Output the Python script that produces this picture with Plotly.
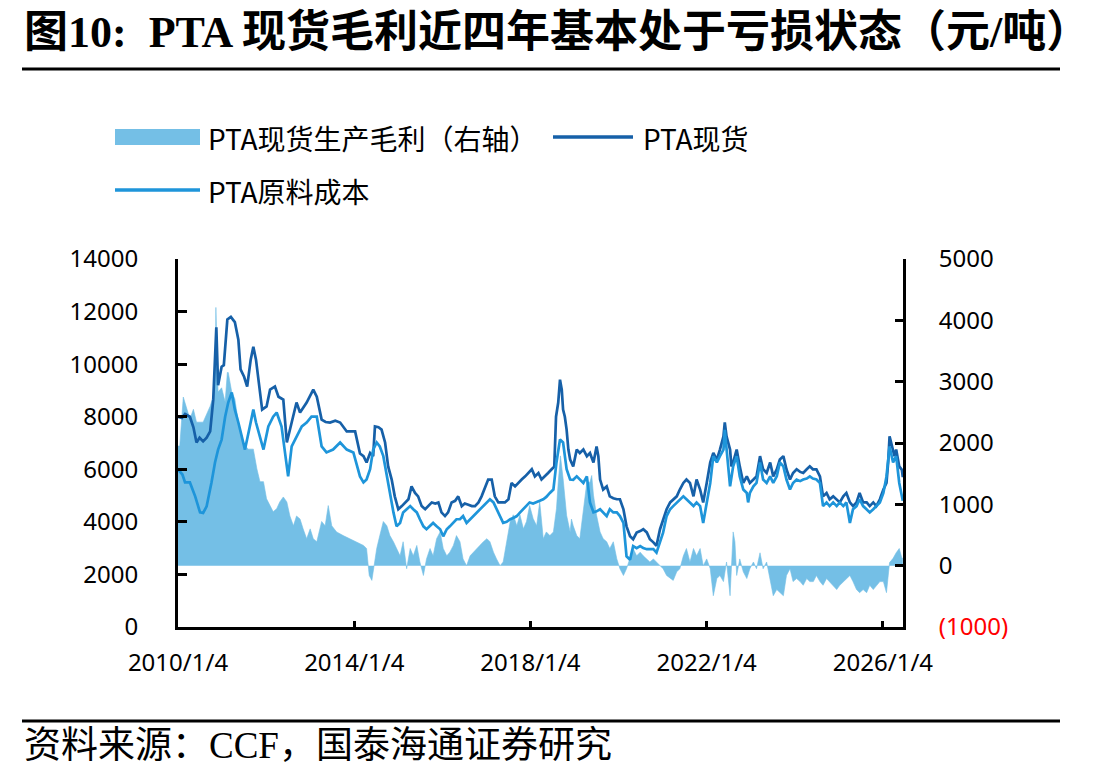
import plotly.graph_objects as go

# ---------------- data (decimal years) ----------------
spot_t = [2010.01, 2010.10, 2010.17, 2010.28, 2010.36, 2010.43, 2010.50, 2010.58, 2010.66, 2010.74,
          2010.81, 2010.88, 2010.92, 2011.00, 2011.05, 2011.13, 2011.21, 2011.30, 2011.38, 2011.43,
          2011.51, 2011.58, 2011.66, 2011.72, 2011.78, 2011.84, 2011.92, 2012.02, 2012.10, 2012.21,
          2012.29, 2012.40, 2012.48, 2012.59, 2012.70, 2012.78, 2012.93, 2013.08, 2013.16, 2013.27,
          2013.36, 2013.46, 2013.58, 2013.69, 2013.84, 2014.03, 2014.14, 2014.22, 2014.29, 2014.37,
          2014.44, 2014.48, 2014.56, 2014.63, 2014.71, 2014.78, 2014.86, 2014.93, 2015.01, 2015.09,
          2015.16, 2015.24, 2015.31, 2015.39, 2015.46, 2015.54, 2015.62, 2015.70, 2015.77, 2015.85,
          2015.92, 2015.99, 2016.07, 2016.14, 2016.22, 2016.30, 2016.37, 2016.45, 2016.52, 2016.60,
          2016.68, 2016.75, 2016.83, 2016.90, 2016.98, 2017.05, 2017.13, 2017.20, 2017.28, 2017.35,
          2017.43, 2017.51, 2017.58, 2017.66, 2017.73, 2017.81, 2017.89, 2017.96, 2018.04, 2018.11,
          2018.19, 2018.26, 2018.34, 2018.41, 2018.49, 2018.55, 2018.59, 2018.64, 2018.68, 2018.72,
          2018.75, 2018.79, 2018.83, 2018.87, 2018.91, 2018.98, 2019.06, 2019.13, 2019.21, 2019.29,
          2019.36, 2019.44, 2019.51, 2019.55, 2019.59, 2019.66, 2019.74, 2019.81, 2019.89, 2019.97,
          2020.04, 2020.12, 2020.19, 2020.27, 2020.34, 2020.42, 2020.50, 2020.57, 2020.65, 2020.72,
          2020.80, 2020.87, 2020.95, 2021.02, 2021.10, 2021.18, 2021.25, 2021.33, 2021.40, 2021.48,
          2021.55, 2021.63, 2021.71, 2021.78, 2021.86, 2021.93, 2022.01, 2022.09, 2022.16, 2022.24,
          2022.31, 2022.39, 2022.42, 2022.46, 2022.54, 2022.57, 2022.61, 2022.69, 2022.76, 2022.84,
          2022.92, 2022.99, 2023.07, 2023.14, 2023.22, 2023.29, 2023.37, 2023.45, 2023.52, 2023.60,
          2023.67, 2023.75, 2023.82, 2023.90, 2023.97, 2024.05, 2024.13, 2024.20, 2024.28, 2024.35,
          2024.42, 2024.50, 2024.58, 2024.65, 2024.73, 2024.80, 2024.88, 2024.96, 2025.03, 2025.11,
          2025.18, 2025.26, 2025.33, 2025.41, 2025.48, 2025.56, 2025.64, 2025.71, 2025.79, 2025.86,
          2025.94, 2026.02, 2026.09, 2026.13, 2026.16, 2026.20, 2026.27, 2026.31, 2026.38, 2026.44,
          2026.46]
spot_v = [8000, 7950, 8100, 8000, 7600, 7020, 7200, 7060, 7200, 7440,
          8650, 11400, 9200, 9900, 9960, 11700, 11800, 11600, 10930, 9800,
          9520, 9150, 10170, 10660, 10170, 9300, 8270, 8390, 9030, 9150,
          8760, 8650, 7020, 7780, 8540, 8160, 8540, 9030, 8760, 7890,
          7800, 7780, 7850, 7780, 7440, 7440, 6600, 6500, 6260, 6620,
          6500, 7630, 7600, 7510, 7020, 6110, 5610, 4970, 4480, 4600,
          4740, 4860, 5350, 5100, 4970, 4600, 4480, 4600, 4740, 4700,
          4740, 4360, 4220, 4360, 4740, 4800, 4970, 4600, 4700, 4650,
          4600, 4600, 4740, 4970, 5350, 5610, 5610, 4970, 4740, 4740,
          4740, 4860, 5480, 5350, 5480, 5610, 5730, 5860, 6000, 5730,
          5860, 5610, 5730, 5860, 6000, 6100, 8000, 8540, 9410, 9030,
          8270, 8000, 7510, 6750, 6370, 6110, 6750, 6620, 6750, 6500,
          6620, 6260, 6870, 6500, 5610, 5230, 5350, 4970, 4900, 4860,
          4860, 4480, 3830, 3450, 3340, 3590, 3650, 3720, 3600, 3340,
          3220, 3090, 3720, 4100, 4480, 4740, 4860, 4970, 5230, 5480,
          5610, 5480, 4970, 5610, 5230, 4740, 5480, 6260, 6620, 6370,
          6750, 7250, 7780, 7250, 6750, 6110, 6260, 6750, 6110, 5480,
          5730, 5480, 5610, 5730, 6500, 6000, 5860, 6260, 5730, 6000,
          6370, 6500, 6000, 5610, 5860, 6000, 5900, 5860, 6000, 6110,
          6000, 6000, 5730, 4970, 5100, 4860, 4970, 4860, 4740, 4970,
          5100, 4740, 4600, 4740, 5100, 4740, 4740, 4600, 4740, 4600,
          4860, 5230, 5480, 6300, 7250, 6990, 6500, 6750, 6110, 5980,
          5700]

cost_t = [2010.01, 2010.05, 2010.11, 2010.17, 2010.28, 2010.40, 2010.51, 2010.58, 2010.66, 2010.77,
          2010.85, 2010.92, 2011.00, 2011.08, 2011.15, 2011.23, 2011.30, 2011.38, 2011.45, 2011.53,
          2011.64, 2011.72, 2011.78, 2011.87, 2011.95, 2012.06, 2012.17, 2012.25, 2012.36, 2012.48,
          2012.51, 2012.59, 2012.70, 2012.82, 2012.93, 2013.04, 2013.16, 2013.27, 2013.38, 2013.53,
          2013.69, 2013.84, 2013.99, 2014.14, 2014.22, 2014.29, 2014.37, 2014.44, 2014.52, 2014.59,
          2014.67, 2014.75, 2014.82, 2014.90, 2014.97, 2015.05, 2015.12, 2015.20, 2015.28, 2015.35,
          2015.43, 2015.50, 2015.58, 2015.65, 2015.73, 2015.80, 2015.88, 2015.96, 2016.03, 2016.11,
          2016.18, 2016.26, 2016.33, 2016.41, 2016.48, 2016.56, 2016.64, 2016.71, 2016.79, 2016.86,
          2016.94, 2017.02, 2017.09, 2017.17, 2017.24, 2017.32, 2017.39, 2017.47, 2017.55, 2017.62,
          2017.70, 2017.77, 2017.85, 2017.92, 2017.99, 2018.07, 2018.15, 2018.22, 2018.30, 2018.37,
          2018.45, 2018.53, 2018.60, 2018.68, 2018.75, 2018.79, 2018.83, 2018.91, 2018.98, 2019.06,
          2019.13, 2019.21, 2019.29, 2019.36, 2019.44, 2019.51, 2019.59, 2019.66, 2019.74, 2019.81,
          2019.89, 2019.97, 2020.04, 2020.12, 2020.19, 2020.27, 2020.34, 2020.42, 2020.50, 2020.57,
          2020.65, 2020.72, 2020.80, 2020.87, 2020.95, 2021.02, 2021.10, 2021.18, 2021.25, 2021.33,
          2021.40, 2021.48, 2021.55, 2021.63, 2021.71, 2021.78, 2021.86, 2021.93, 2022.01, 2022.09,
          2022.16, 2022.24, 2022.31, 2022.39, 2022.42, 2022.46, 2022.54, 2022.61, 2022.69, 2022.76,
          2022.84, 2022.92, 2022.95, 2022.99, 2023.07, 2023.14, 2023.22, 2023.29, 2023.37, 2023.45,
          2023.52, 2023.60, 2023.67, 2023.75, 2023.82, 2023.90, 2023.97, 2024.05, 2024.13, 2024.20,
          2024.28, 2024.35, 2024.42, 2024.50, 2024.58, 2024.65, 2024.73, 2024.80, 2024.88, 2024.96,
          2025.03, 2025.11, 2025.18, 2025.26, 2025.33, 2025.41, 2025.48, 2025.56, 2025.64, 2025.71,
          2025.79, 2025.86, 2025.94, 2026.02, 2026.09, 2026.16, 2026.24, 2026.31, 2026.38, 2026.44,
          2026.46]
cost_v = [6000, 5900, 5800, 5500, 5500, 4970, 4360, 4340, 4590, 5500,
          6260, 6750, 7130, 8000, 8540, 8920, 8270, 7780, 7250, 6750,
          7630, 8270, 7780, 7250, 6750, 7630, 8000, 8160, 7630, 6110,
          5730, 6870, 7250, 7630, 7780, 8000, 8000, 6870, 6640, 6750,
          7020, 6750, 6640, 5730, 5500, 5610, 6000, 6750, 7020, 6870,
          6500, 5730, 4970, 4360, 3830, 3960, 4360, 4480, 4600, 4480,
          4360, 4100, 3830, 3720, 3830, 3960, 3830, 3720, 3450, 3720,
          3830, 3960, 4100, 4100, 4220, 3960, 4100, 4220, 4360, 4480,
          4600, 4740, 4860, 4740, 4480, 4220, 3960, 4000, 4100, 4150,
          4220, 4350, 4480, 4600, 4740, 4700, 4740, 4800, 4860, 4950,
          5100, 5230, 6260, 7130, 7020, 6500, 6000, 5610, 5600, 5730,
          5610, 5480, 5730, 4740, 4360, 4400, 4480, 4360, 4220, 4480,
          4360, 4360, 4220, 3960, 2690, 2560, 3080, 3000, 3080, 3000,
          2960, 2960, 2960, 2830, 3220, 3590, 4220, 4480, 4600, 4740,
          4860, 4970, 4860, 4740, 4600, 4740, 4600, 3960, 4740, 5480,
          6500, 6260, 6500, 6750, 7500, 6750, 5350, 6110, 6500, 5730,
          5230, 5100, 4740, 5100, 5350, 5480, 6260, 5610, 5480, 5730,
          5480, 5730, 6260, 6110, 5610, 5230, 5480, 5610, 5550, 5610,
          5650, 5730, 5650, 5610, 5480, 4600, 4740, 4600, 4740, 4600,
          4740, 4600, 4740, 3960, 4480, 4600, 4860, 4600, 4480, 4360,
          4480, 4600, 4740, 5100, 5730, 6870, 6260, 6500, 5480, 4970,
          4800]

profit_t = [2010.01, 2010.05, 2010.13, 2010.21, 2010.28, 2010.36, 2010.43, 2010.58, 2010.74, 2010.81,
            2010.86, 2010.87, 2010.90, 2010.92, 2011.00, 2011.08, 2011.13, 2011.15, 2011.23, 2011.30,
            2011.38, 2011.45, 2011.53, 2011.61, 2011.72, 2011.80, 2011.87, 2011.95, 2012.02, 2012.10,
            2012.17, 2012.25, 2012.32, 2012.40, 2012.48, 2012.55, 2012.63, 2012.70, 2012.78, 2012.85,
            2012.93, 2013.01, 2013.08, 2013.16, 2013.27, 2013.35, 2013.42, 2013.50, 2013.61, 2013.76,
            2013.91, 2014.07, 2014.22, 2014.29, 2014.35, 2014.41, 2014.44, 2014.52, 2014.59, 2014.67,
            2014.75, 2014.82, 2014.90, 2014.97, 2015.05, 2015.12, 2015.20, 2015.28, 2015.35, 2015.43,
            2015.50, 2015.58, 2015.65, 2015.73, 2015.80, 2015.88, 2015.96, 2016.03, 2016.11, 2016.18,
            2016.26, 2016.33, 2016.41, 2016.48, 2016.56, 2016.64, 2016.71, 2016.79, 2016.86, 2016.94,
            2017.02, 2017.09, 2017.17, 2017.24, 2017.32, 2017.39, 2017.47, 2017.55, 2017.62, 2017.70,
            2017.77, 2017.85, 2017.92, 2017.99, 2018.07, 2018.15, 2018.22, 2018.30, 2018.37, 2018.45,
            2018.53, 2018.60, 2018.64, 2018.69, 2018.75, 2018.83, 2018.91, 2018.94, 2018.98, 2019.06,
            2019.13, 2019.21, 2019.29, 2019.36, 2019.40, 2019.44, 2019.51, 2019.59, 2019.66, 2019.74,
            2019.81, 2019.89, 2019.97, 2020.04, 2020.12, 2020.19, 2020.27, 2020.34, 2020.42, 2020.50,
            2020.57, 2020.65, 2020.72, 2020.80, 2020.87, 2020.95, 2021.02, 2021.10, 2021.18, 2021.25,
            2021.33, 2021.40, 2021.48, 2021.55, 2021.63, 2021.71, 2021.78, 2021.86, 2021.93, 2022.01,
            2022.09, 2022.16, 2022.24, 2022.31, 2022.39, 2022.46, 2022.54, 2022.61, 2022.65, 2022.69,
            2022.76, 2022.84, 2022.92, 2022.99, 2023.07, 2023.14, 2023.22, 2023.29, 2023.37, 2023.45,
            2023.52, 2023.60, 2023.67, 2023.75, 2023.82, 2023.90, 2023.97, 2024.05, 2024.13, 2024.20,
            2024.28, 2024.35, 2024.43, 2024.50, 2024.58, 2024.65, 2024.73, 2024.80, 2024.88, 2024.96,
            2025.03, 2025.11, 2025.18, 2025.26, 2025.33, 2025.41, 2025.48, 2025.56, 2025.64, 2025.71,
            2025.79, 2025.86, 2025.94, 2026.02, 2026.09, 2026.16, 2026.24, 2026.31, 2026.38, 2026.44,
            2026.46]
profit_v = [1950, 1950, 2750, 2550, 2390, 2550, 2340, 2340, 2600, 2760,
            3500, 4210, 3000, 2830, 2900, 2670, 3150, 3150, 2830, 2720,
            2340, 2110, 1950, 1900, 1900, 1580, 1370, 1370, 1090, 980,
            880, 930, 1040, 1120, 1040, 810, 650, 810, 760, 600,
            440, 600, 440, 390, 720, 650, 980, 650, 550, 490,
            440, 390, 330, 280, -160, -240, -100, 280, 490, 720,
            650, 490, 390, 280, 160, 390, -50, 280, 160, 330,
            60, -160, 110, 280, 160, 440, 550, 280, 160, 220,
            330, 490, 390, 110, 0, 160, 220, 280, 330, 390,
            440, 390, 220, 110, 0, 60, 390, 720, 830, 650,
            830, 600, 720, 980, 770, 650, 1040, 440, 550, 490,
            550, 930, 1360, 1790, 1420, 820, 550, 760, 650, 490,
            440, 930, 1360, 1360, 1470, 1150, 820, 550, 440, 390,
            280, 390, 110, -50, -160, -50, 110, 280, 160, 220,
            160, 110, 60, 110, 60, 0, -50, -160, -210, -240,
            -100, -50, 160, 280, 60, 280, 160, 280, 0, 110,
            -50, -490, -210, -160, -260, 60, -490, 550, 390, -160,
            110, -100, -210, -50, 60, -50, 210, -50, 60, -260,
            -490, -390, -440, -490, -160, -50, -260, -210, -260, -320,
            -210, -260, -260, -160, -260, -320, -210, -260, -320, -390,
            -320, -260, -210, -160, -260, -390, -440, -390, -440, -320,
            -390, -320, -260, -260, -440, 50, 120, 210, 280, 120,
            120]

x_tick_vals = [2010.01, 2014.01, 2018.01, 2022.01, 2026.01]
x_tick_text = ["2010/1/4", "2014/1/4", "2018/1/4", "2022/1/4", "2026/1/4"]
left_tick_vals = [0, 2000, 4000, 6000, 8000, 10000, 12000, 14000]
left_tick_text = ["0", "2000", "4000", "6000", "8000", "10000", "12000", "14000"]
right_tick_vals = [-1000, 0, 1000, 2000, 3000, 4000, 5000]
right_tick_text = ["<span style='color:#FF0000'>(1000)</span>", "0", "1000", "2000", "3000", "4000", "5000"]

series_names = ["PTA现货生产毛利（右轴）", "PTA现货", "PTA原料成本"]
title_text = "图10:  PTA 现货毛利近四年基本处于亏损状态（元/吨）"
source_text = "资料来源：CCF，国泰海通证券研究"

# ---------------- styling ----------------
C_FILL = "#74BFE6"
C_SPOT = "#1660A8"
C_COST = "#1E95DA"
W, H = 1109, 775
L, R, T, B = 178, 903, 259, 627   # plot area in pixels
TICKFONT = dict(family="Noto Sans, Noto Sans CJK SC", size=24, color="#000000")
CJK = "Noto Sans CJK SC"


def px(x):
    return (x - L) / (R - L)


def py(y):
    return (B - y) / (B - T)


fig = go.Figure()
# profit on primary axis 'y' (right side) so it is drawn beneath the lines
fig.add_trace(go.Scatter(x=profit_t, y=profit_v, yaxis="y", name=series_names[0],
                         mode="lines", line=dict(width=0.6, color=C_FILL),
                         fill="tozeroy", fillcolor=C_FILL, showlegend=False))
fig.add_trace(go.Scatter(x=spot_t, y=spot_v, yaxis="y2", name=series_names[1],
                         mode="lines", line=dict(width=2.7, color=C_SPOT), showlegend=False))
fig.add_trace(go.Scatter(x=cost_t, y=cost_v, yaxis="y2", name=series_names[2],
                         mode="lines", line=dict(width=2.7, color=C_COST), showlegend=False))

fig.update_layout(
    width=W, height=H,
    margin=dict(l=L, r=W - R, t=T, b=H - B, pad=0),
    paper_bgcolor="white", plot_bgcolor="white",
    showlegend=False,
    xaxis=dict(range=[2010.01, 2026.465], tickvals=x_tick_vals, ticktext=x_tick_text,
               showgrid=False, zeroline=False, showline=True, linecolor="black", linewidth=3,
               ticks="inside", ticklen=6, tickwidth=3, tickcolor="black",
               tickfont=TICKFONT, ticklabelstandoff=12),
    yaxis=dict(range=[-1000, 5000], tickvals=right_tick_vals, ticktext=right_tick_text,
               side="right", showgrid=False, zeroline=False, showline=True,
               linecolor="black", linewidth=3, ticks="inside", ticklen=8, tickwidth=3,
               tickcolor="black", tickfont=TICKFONT, ticklabelstandoff=28),
    yaxis2=dict(range=[0, 14000], tickvals=left_tick_vals, ticktext=left_tick_text,
                overlaying="y", side="left",
                showgrid=False, zeroline=False, showline=True, linecolor="black", linewidth=3,
                ticks="inside", ticklen=9, tickwidth=3, tickcolor="black",
                tickfont=TICKFONT, ticklabelstandoff=32),
)

shapes = []
annotations = []
# title and rules
annotations.append(dict(xref="paper", yref="paper", x=px(22), y=py(32), xanchor="left", yanchor="middle",
                        text="<b>" + title_text + "</b>", showarrow=False,
                        font=dict(family="Liberation Serif, " + CJK, size=44, color="black")))
shapes.append(dict(type="line", xref="paper", yref="paper", x0=px(22), x1=px(1060), y0=py(69), y1=py(69),
                   line=dict(color="black", width=3)))
shapes.append(dict(type="line", xref="paper", yref="paper", x0=px(22), x1=px(1060), y0=py(721), y1=py(721),
                   line=dict(color="black", width=3)))
annotations.append(dict(xref="paper", yref="paper", x=px(22), y=py(745), xanchor="left", yanchor="middle",
                        text=source_text, showarrow=False,
                        font=dict(family="Liberation Serif, " + CJK, size=37, color="black")))

# legend (drawn by hand to match the long swatches)
LEGFONT = dict(family="Liberation Sans Narrow, " + CJK, size=28, color="black")
shapes.append(dict(type="rect", xref="paper", yref="paper", x0=px(115), x1=px(200), y0=py(145), y1=py(129),
                   fillcolor=C_FILL, line=dict(width=0)))
annotations.append(dict(xref="paper", yref="paper", x=px(206), y=py(138), xanchor="left", yanchor="middle",
                        text=series_names[0], showarrow=False, font=LEGFONT))
shapes.append(dict(type="line", xref="paper", yref="paper", x0=px(553), x1=px(633), y0=py(137), y1=py(137),
                   line=dict(color=C_SPOT, width=3.5)))
annotations.append(dict(xref="paper", yref="paper", x=px(641), y=py(138), xanchor="left", yanchor="middle",
                        text=series_names[1], showarrow=False, font=LEGFONT))
shapes.append(dict(type="line", xref="paper", yref="paper", x0=px(115), x1=px(200), y0=py(190), y1=py(190),
                   line=dict(color=C_COST, width=3.5)))
annotations.append(dict(xref="paper", yref="paper", x=px(206), y=py(191), xanchor="left", yanchor="middle",
                        text=series_names[2], showarrow=False, font=LEGFONT))

fig.update_layout(shapes=shapes, annotations=annotations)
fig.write_html("out.html")
